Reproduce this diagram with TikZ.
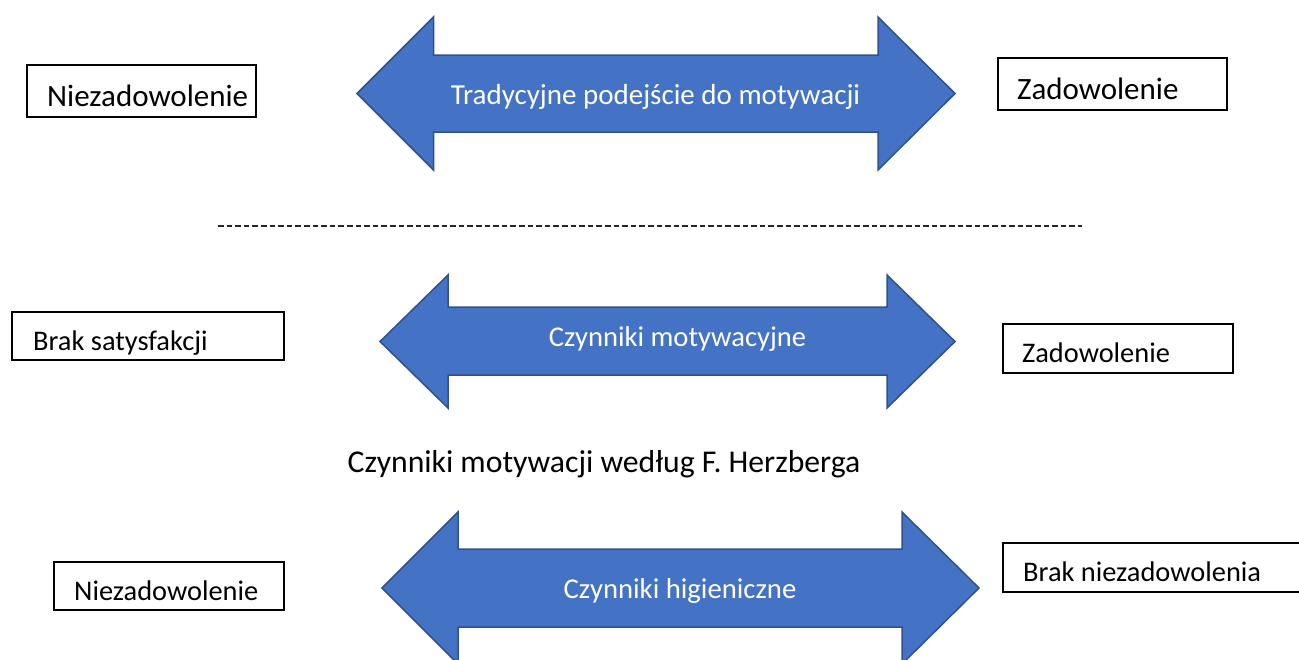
\documentclass[tikz,border=0pt]{standalone}
\usepackage{fontspec}
\setmainfont{Carlito}
\definecolor{arrowfill}{HTML}{4472C4}
\definecolor{arrowline}{HTML}{2F528F}
\tikzset{
  bluearrow/.style={fill=arrowfill, draw=arrowline, line width=1.5pt, line join=miter},
  boxst/.style={draw=black, line width=1.6pt, inner sep=0pt, anchor=north west},
  lbl/.style={anchor=base west, inner sep=0pt, text=black},
  arrowlbl/.style={anchor=base, inner sep=0pt, text=white, font=\fontsize{29pt}{34pt}\selectfont},
  bigf/.style={font=\fontsize{31pt}{36pt}\selectfont},
  smallf/.style={font=\fontsize{28.4pt}{33pt}\selectfont},
}
\begin{document}
\begin{tikzpicture}[x=1pt,y=-1pt]
\useasboundingbox (0,0) rectangle (1299,659);
\clip (0,0) rectangle (1299,659);
\fill[white] (0,0) rectangle (1299,659);

% Arrow 1
\path[bluearrow] (357,93.5) -- (433.5,17) -- (433.5,55) -- (878,55) -- (878,17) -- (955,93.5)
  -- (878,170) -- (878,132) -- (433.5,132) -- (433.5,170) -- cycle;
\node[arrowlbl] (t1) at (655.5,104) {Tradycyjne podejście do motywacji};

% Arrow 2
\path[bluearrow] (380,341.5) -- (448,275) -- (448,307) -- (887,307) -- (887,275) -- (955,341.5)
  -- (887,408) -- (887,375) -- (448,375) -- (448,408) -- cycle;
\node[arrowlbl, font=\fontsize{28.6pt}{33pt}\selectfont] (t2) at (677.5,346) {Czynniki motywacyjne};

% Arrow 3
\path[bluearrow] (382,588) -- (458,512) -- (458,549) -- (902,549) -- (902,512) -- (979,588)
  -- (902,664) -- (902,627) -- (458,627) -- (458,664) -- cycle;
\node[arrowlbl, font=\fontsize{28.7pt}{33pt}\selectfont] (t3) at (680,598) {Czynniki higieniczne};

% Boxes row 1
\node[boxst, minimum width=229pt, minimum height=52pt] (b1) at (26,64) {};
\node[lbl, bigf] (l1) at (47,106) {Niezadowolenie};
\node[boxst, minimum width=229pt, minimum height=52pt] (b2) at (997,57) {};
\node[lbl, bigf] (l2) at (1017,99) {Zadowolenie};

% separator
\draw[line width=2.6pt, black!85, dash pattern=on 5.6pt off 3pt] (218,226) -- (1082,226);

% Boxes row 2
\node[boxst, minimum width=272pt, minimum height=48pt] (b3) at (11,311) {};
\node[lbl, smallf] (l3) at (33,350) {Brak satysfakcji};
\node[boxst, minimum width=230pt, minimum height=49pt] (b4) at (1002,323) {};
\node[lbl, smallf] (l4) at (1022,362) {Zadowolenie};

% Title
\node[anchor=base, inner sep=0pt, font=\fontsize{31.7pt}{36pt}\selectfont] (title) at (604,472) {Czynniki motywacji według F. Herzberga};

% Boxes row 3
\node[boxst, minimum width=230pt, minimum height=48pt] (b5) at (53,561) {};
\node[lbl, smallf] (l5) at (74,600) {Niezadowolenie};
\node[boxst, minimum width=310pt, minimum height=49pt] (b6) at (1002,542) {};
\node[lbl, smallf] (l6) at (1023,581) {Brak niezadowolenia};
\end{tikzpicture}
\end{document}
